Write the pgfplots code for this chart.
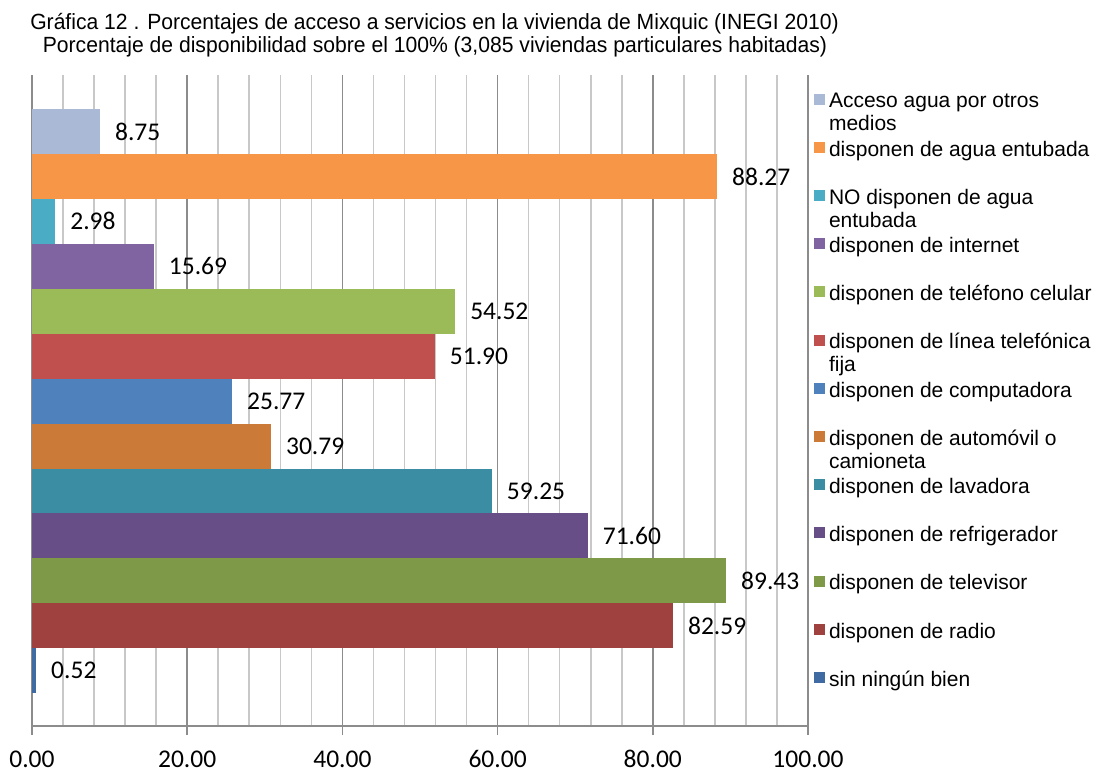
\documentclass[border=0pt]{standalone}
\usepackage{fontspec}
\setmainfont{Liberation Sans}
\newfontfamily\calfont{Carlito}
\newfontfamily\titlefont[FakeStretch=0.96]{Liberation Sans}
\usepackage{pgfplots}
\pgfplotsset{compat=1.18}
\definecolor{c1}{HTML}{AAB9D6}
\definecolor{c2}{HTML}{F79646}
\definecolor{c3}{HTML}{4BACC6}
\definecolor{c4}{HTML}{8064A2}
\definecolor{c5}{HTML}{9BBB59}
\definecolor{c6}{HTML}{C0504D}
\definecolor{c7}{HTML}{4F81BD}
\definecolor{c8}{HTML}{CB7A38}
\definecolor{c9}{HTML}{3B8DA3}
\definecolor{c10}{HTML}{674E86}
\definecolor{c11}{HTML}{7E9A49}
\definecolor{c12}{HTML}{9E413F}
\definecolor{c13}{HTML}{3F6BA2}
\definecolor{majgray}{HTML}{8C8C8C}
\definecolor{mingray}{HTML}{C8C8C8}
\newcommand{\legfont}{\fontsize{21}{23}\selectfont}
\newcommand{\LE}[1]{\parbox[t][46pt][t]{280pt}{\legfont\rule[-6pt]{0pt}{17pt}#1}}
\newcommand{\calsize}{\calfont\fontsize{25.5}{30}\selectfont}
\begin{document}
\begin{tikzpicture}
\useasboundingbox (0pt,0pt) rectangle (1099pt,772pt);
\begin{axis}[
  at={(32pt,46pt)}, anchor=south west,
  scale only axis, width=776pt, height=651pt,
  xmin=0, xmax=100, ymin=-1.228, ymax=13.257,
  xtick={0,20,...,100}, minor x tick num=4, ytick=\empty,
  grid=both,
  major grid style={draw=majgray, line width=1.6pt},
  minor grid style={draw=mingray, line width=1.6pt},
  axis x line*=bottom, axis y line*=left,
  axis line style={-, draw=majgray, line width=1.8pt},
  tick align=outside, major tick length=9pt, minor tick length=0pt,
  tick style={draw=majgray, line width=1.6pt},
  xticklabel={\pgfmathprintnumber[fixed,fixed zerofill,precision=2,assume math mode=true]{\tick}},
  xticklabel style={font=\calsize, anchor=base, inner sep=0pt, text depth=0pt, yshift=-32pt},
  point meta=x,
  nodes near coords={\pgfmathprintnumber[fixed,fixed zerofill,precision=2,assume math mode=true]{\pgfplotspointmeta}},
  nodes near coords style={anchor=west, inner sep=0pt, xshift=15pt, font=\calsize, text=black},
  every axis plot/.append style={xbar, bar width=45pt, bar shift=0pt, draw=none},
  legend image code/.code={\path[draw=none,fill=none] (0pt,-23pt) rectangle (11pt,23pt); \fill[#1] (0pt,-3.5pt) rectangle (11pt,7.5pt);},
  legend cell align=left,
  legend style={draw=none, fill=none, at={(1.00773,0.99539)}, anchor=north west,
    inner sep=0pt, outer sep=0pt, row sep=2.2pt, column sep=4pt,
    nodes={inner sep=0pt, outer sep=0pt}, font=\legfont},
]
\addplot[fill=c1] coordinates {(8.75,12)};
\addlegendentry{\LE{Acceso agua por otros\\medios}}
\addplot[fill=c2] coordinates {(88.27,11)};
\addlegendentry{\LE{disponen de agua entubada}}
\addplot[fill=c3] coordinates {(2.98,10)};
\addlegendentry{\LE{NO disponen de agua\\entubada}}
\addplot[fill=c4] coordinates {(15.69,9)};
\addlegendentry{\LE{disponen de internet}}
\addplot[fill=c5] coordinates {(54.52,8)};
\addlegendentry{\LE{disponen de teléfono celular}}
\addplot[fill=c6] coordinates {(51.90,7)};
\addlegendentry{\LE{disponen de línea telefónica\\fija}}
\addplot[fill=c7] coordinates {(25.77,6)};
\addlegendentry{\LE{disponen de computadora}}
\addplot[fill=c8] coordinates {(30.79,5)};
\addlegendentry{\LE{disponen de automóvil o\\camioneta}}
\addplot[fill=c9] coordinates {(59.25,4)};
\addlegendentry{\LE{disponen de lavadora}}
\addplot[fill=c10] coordinates {(71.60,3)};
\addlegendentry{\LE{disponen de refrigerador}}
\addplot[fill=c11] coordinates {(89.43,2)};
\addlegendentry{\LE{disponen de televisor}}
\addplot[fill=c12] coordinates {(82.59,1)};
\addlegendentry{\LE{disponen de radio}}
\addplot[fill=c13] coordinates {(0.52,0)};
\addlegendentry{\LE{sin ningún bien}}
\end{axis}
\node[anchor=base, font=\titlefont\fontsize{22}{24}\selectfont] at (434.5pt,742pt) {Gráfica 12 . Porcentajes de acceso a servicios en la vivienda de Mixquic (INEGI 2010)};
\node[anchor=base, font=\titlefont\fontsize{22}{24}\selectfont] at (435pt,719.5pt) {Porcentaje de disponibilidad sobre el 100\% (3,085 viviendas particulares habitadas)};
\end{tikzpicture}
\end{document}
